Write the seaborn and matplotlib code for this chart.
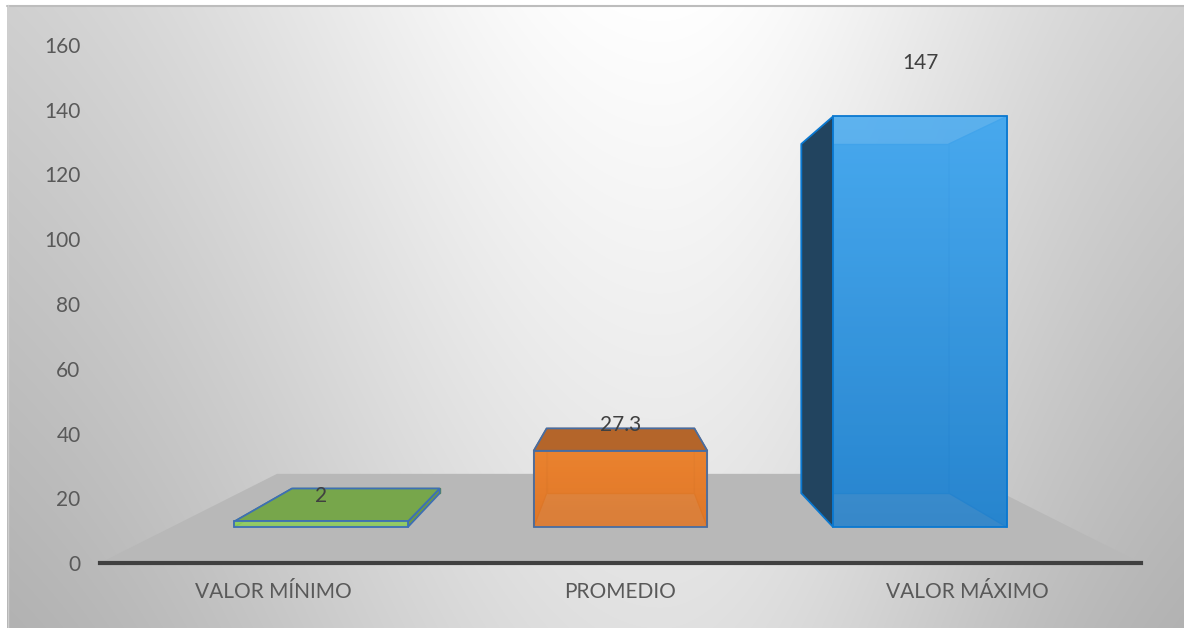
import numpy as np
import matplotlib
matplotlib.use("Agg")
import matplotlib.pyplot as plt
import seaborn as sns
from matplotlib.patches import Polygon, Rectangle
from matplotlib.colors import to_rgb

# --- Data ---
categories = ["VALOR MÍNIMO", "PROMEDIO", "VALOR MÁXIMO"]
values = [2, 27.3, 147]
value_labels = ["2", "27.3", "147"]
y_ticks = [0, 20, 40, 60, 80, 100, 120, 140, 160]

# --- Styling ---
front_colors = ["#8fce5c", "#e87d2c", "#3a9de4"]
front_top_colors = ["#92d35e", "#eb8430", "#4aabf0"]
front_bot_colors = ["#8bc858", "#df7627", "#2582cc"]
top_colors = ["#77a64b", "#b4652a", "#2f8bd6"]
side_colors = ["#6c9a44", "#c86c2a", "#22445f"]
edge_colors = ["#3d6fb5", "#466da3", "#0a78d0"]
inner_colors = ["#5f8f3c", "#c0651f", "#1a82d6"]
text_color = "#404040"

# simple one-point perspective, in data coordinates
vp_x, vp_y = 1.0, 81.0
floor_back = 0.66
bar_front = 0.863
bar_back = 0.734


def proj(x, y, s):
    return (vp_x + (x - vp_x) * s, vp_y + (y - vp_y) * s)


sns.set_style("white")
plt.rcParams["font.family"] = ["Lato", "DejaVu Sans"]

W, H = 1184, 628
fig = plt.figure(figsize=(W / 100, H / 100), dpi=100)

# background gradient (smooth, bright around upper middle)
bg = fig.add_axes([0, 0, 1, 1], zorder=-10)
xs = np.arange(W, dtype=float)
ys = np.arange(H, dtype=float)
width = np.where(xs < 660, 470.0, 380.0)
row = 200 + 55 * np.exp(-((xs - 660) / width) ** 2)
img = row[None, :] - 30 * (ys[:, None] / H)
img = np.clip(img, 0, 255) / 255
rgb = np.dstack([img, img, img])
bg.imshow(rgb, aspect="auto", extent=[0, W, H, 0], interpolation="bilinear")
bg.add_patch(Rectangle((0, 0), W, 5, color="white", lw=0))
bg.add_patch(Rectangle((0, 0), 7, H, color="white", lw=0))
bg.plot([7, W], [5.5, 5.5], color="#bdbdbd", lw=1.5)
bg.plot([7.5, 7.5], [5, H], color="#cfcfcf", lw=1)
bg.set_xlim(0, W)
bg.set_ylim(H, 0)
bg.axis("off")

# main axes
ax = fig.add_axes([100 / W, (H - 563) / H, 1041 / W, 518 / H])
ax.set_facecolor("none")
sns.barplot(x=categories, y=values, hue=categories, palette=front_colors,
            width=0.58, saturation=1, legend=False, ax=ax)
ax.set_xlim(-0.5, 2.5)
ax.set_ylim(0, 160)
ax.set_yticks(y_ticks)
ax.set_xlabel("")
ax.set_ylabel("")

# floor
floor = [proj(-0.5, 0, 1), proj(2.5, 0, 1), proj(2.5, 0, floor_back), proj(-0.5, 0, floor_back)]
ax.add_patch(Polygon(floor, closed=True, facecolor="#b8b8b8", edgecolor="none", zorder=0.5))

for i, patch in enumerate(ax.patches[:len(values)]):
    x0 = patch.get_x()
    x1 = x0 + patch.get_width()
    h = patch.get_height()

    def F(x, y):
        return proj(x, y, bar_front)

    def B(x, y):
        return proj(x, y, bar_back)

    back = [B(x0, 0), B(x1, 0), B(x1, h), B(x0, h)]
    left = [F(x0, 0), B(x0, 0), B(x0, h), F(x0, h)]
    right = [F(x1, 0), B(x1, 0), B(x1, h), F(x1, h)]
    top = [F(x0, h), F(x1, h), B(x1, h), B(x0, h)]

    z = 2
    # back / hidden faces
    ax.add_patch(Polygon(back, facecolor=front_colors[i], edgecolor=inner_colors[i], lw=1, zorder=z))
    if x0 <= vp_x:
        ax.add_patch(Polygon(left, facecolor=front_colors[i], edgecolor=inner_colors[i], lw=1, zorder=z))
    if x1 >= vp_x:
        ax.add_patch(Polygon(right, facecolor=front_colors[i], edgecolor=inner_colors[i], lw=1, zorder=z))
    # visible faces
    if x0 > vp_x:
        ax.add_patch(Polygon(left, facecolor=side_colors[i], edgecolor=edge_colors[i], lw=1.3, zorder=z + 1))
    if x1 < vp_x:
        ax.add_patch(Polygon(right, facecolor=side_colors[i], edgecolor=edge_colors[i], lw=1.3, zorder=z + 1))
    if h < vp_y:
        ax.add_patch(Polygon(top, facecolor=top_colors[i], edgecolor=edge_colors[i], lw=1.3, zorder=z + 1))

    # front face: reuse the seaborn bar as outline, fill with a soft vertical gradient
    fx0, fy0 = F(x0, 0)
    fx1, fy1 = F(x1, h)
    patch.set_x(fx0)
    patch.set_width(fx1 - fx0)
    patch.set_y(fy0)
    patch.set_height(fy1 - fy0)
    patch.set_facecolor("none")
    patch.set_edgecolor(edge_colors[i])
    patch.set_linewidth(1.3)
    patch.set_zorder(z + 3)

    c_top = np.array(to_rgb(front_top_colors[i]))
    c_bot = np.array(to_rgb(front_bot_colors[i]))
    t = np.linspace(0, 1, 64)[:, None]
    grad = (c_top[None, :] * (1 - t) + c_bot[None, :] * t)[:, None, :]
    im = ax.imshow(grad, extent=[fx0, fx1, fy0, fy1], origin="upper",
                   aspect="auto", alpha=0.88, zorder=z + 2, interpolation="bilinear")
    im.set_clip_path(patch)

    # value label
    lx, ly = F((x0 + x1) / 2, h)
    _, by = B((x0 + x1) / 2, h)
    ly = ly + 8.0 + max(0, ly - by)
    ax.text(lx, ly, value_labels[i], ha="center", va="center",
            fontsize=15, color=text_color, zorder=10)

ax.set_xlim(-0.5, 2.5)
ax.set_ylim(0, 160)
ax.set_aspect("auto")

sns.despine(ax=ax, left=True)
ax.spines["bottom"].set_linewidth(3)
ax.spines["bottom"].set_color("#404040")
ax.spines["bottom"].set_zorder(6)
ax.tick_params(axis="y", length=0, labelsize=15, colors="#595959", pad=14)
ax.tick_params(axis="x", length=0, labelsize=15, colors="#595959", pad=14)
ax.grid(False)

fig.savefig("out.png", dpi=100)
